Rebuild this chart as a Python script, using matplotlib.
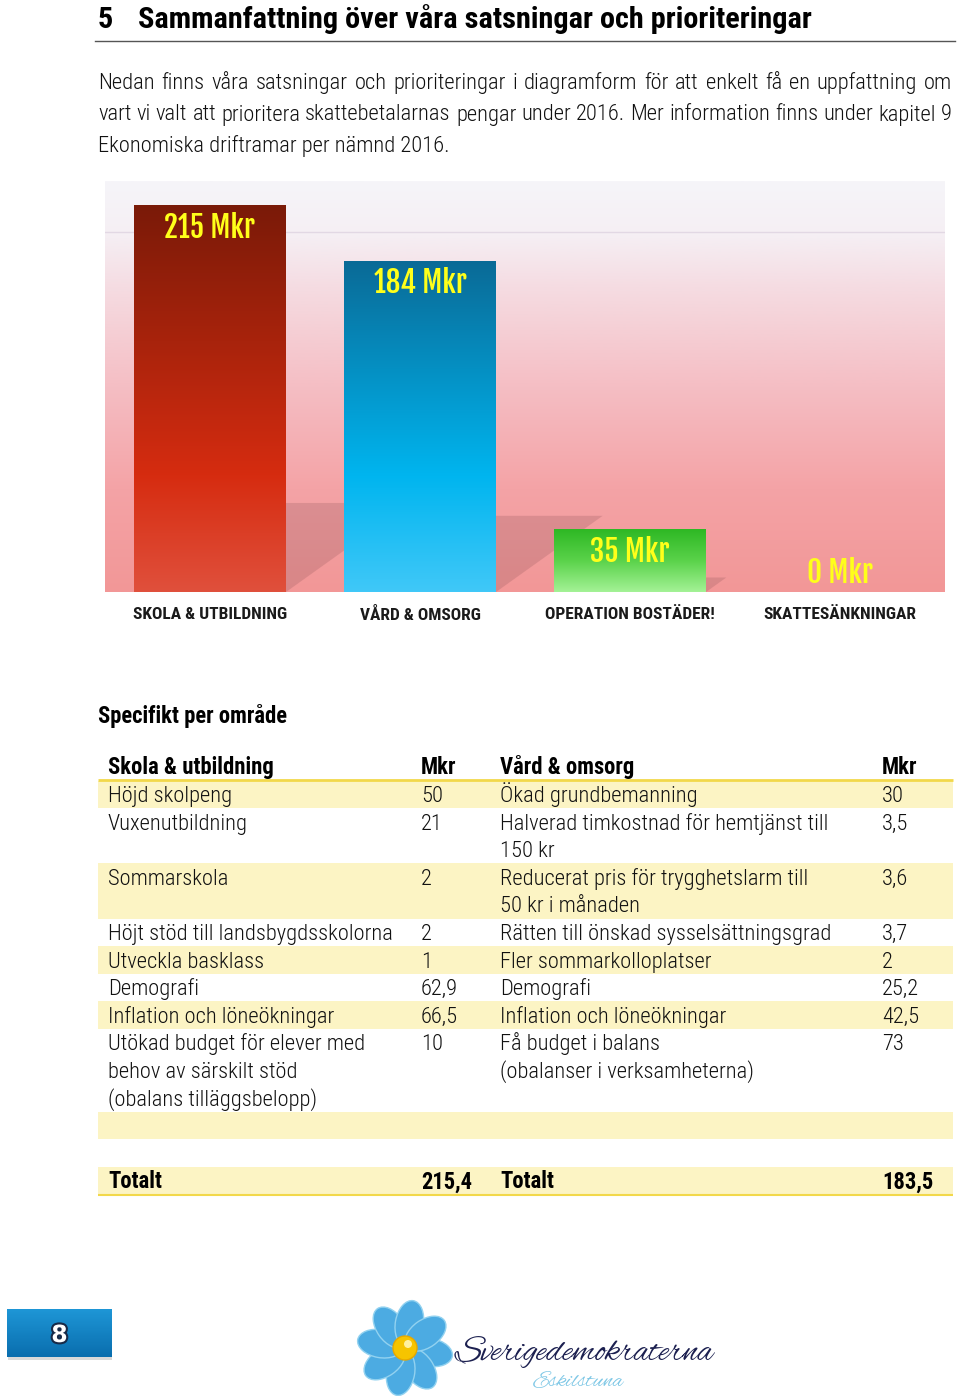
import matplotlib
matplotlib.use('Agg')
import matplotlib.pyplot as plt
import numpy as np
from matplotlib.colors import LinearSegmentedColormap
from matplotlib.patches import Rectangle, Ellipse, Circle
import matplotlib.patheffects as pe
from matplotlib import font_manager as fm

avail = {f.name for f in fm.fontManager.ttflist}


def pick(*cands):
    return next((c for c in cands if c in avail), 'DejaVu Sans')


BODY = pick('Roboto Condensed', 'Archivo Narrow', 'PT Sans Narrow', 'Liberation Sans Narrow', 'Barlow Condensed')
HEAVY = pick('Fjalla One', 'Anton', 'Oswald', 'Roboto Condensed')
SCRIPT = pick('Alex Brush', 'Allura', 'Liberation Serif')
plt.rcParams['font.family'] = [BODY, 'DejaVu Sans']

# ---- data ----
heading_num = "5"
heading = "Sammanfattning över våra satsningar och prioriteringar"
intro_lines = ["Nedan finns våra satsningar och prioriteringar i diagramform för att enkelt få en uppfattning om",
               "vart vi valt att prioritera skattebetalarnas pengar under 2016. Mer information finns under kapitel 9",
               "Ekonomiska driftramar per nämnd 2016."]

categories = ["SKOLA & UTBILDNING", "VÅRD & OMSORG", "OPERATION BOSTÄDER!", "SKATTESÄNKNINGAR"]
values = [215, 184, 35, 0]

section_title = "Specifikt per område"
table_header = ["Skola & utbildning", "Mkr", "Vård & omsorg", "Mkr"]
skola_items = ["Höjd skolpeng", "Vuxenutbildning", "Sommarskola", "Höjt stöd till landsbygdsskolorna",
               "Utveckla basklass", "Demografi", "Inflation och löneökningar",
               "Utökad budget för elever med\nbehov av särskilt stöd\n(obalans tilläggsbelopp)", "", ""]
skola_mkr = ["50", "21", "2", "2", "1", "62,9", "66,5", "10", "", ""]
vard_items = ["Ökad grundbemanning", "Halverad timkostnad för hemtjänst till\n150 kr",
              "Reducerat pris för trygghetslarm till\n50 kr i månaden", "Rätten till önskad sysselsättningsgrad",
              "Fler sommarkolloplatser", "Demografi", "Inflation och löneökningar",
              "Få budget i balans\n(obalanser i verksamheterna)", "", ""]
vard_mkr = ["30", "3,5", "3,6", "3,7", "2", "25,2", "42,5", "73", "", ""]
total_label = "Totalt"
totals = ["215,4", "183,5"]
page_no = "8"

W, H = 960, 1396
fig = plt.figure(figsize=(W / 100, H / 100), dpi=100)
page = fig.add_axes([0, 0, 1, 1])
page.set_xlim(0, W)
page.set_ylim(H, 0)
page.axis('off')
rend = fig.canvas.get_renderer()


def justify(line, x0, x1, y, **kw):
    words = line.split()
    texts = [page.text(0, y, w, **kw) for w in words]
    widths = [t.get_window_extent(renderer=rend).width for t in texts]
    gap = (x1 - x0 - sum(widths)) / (len(words) - 1)
    x = x0
    for t, wd in zip(texts, widths):
        t.set_x(x)
        x += wd + gap


BODY_FS = 16.2

# heading
page.text(98, 28, heading_num, fontsize=21.8, fontweight='bold', va='baseline')
page.text(138, 28, heading, fontsize=21.8, fontweight='bold', va='baseline')
page.plot([95, 955], [40.5, 40.5], color='#555555', lw=1)

# intro paragraph
for i, line in enumerate(intro_lines):
    y = 89 + i * 31.5
    if i < len(intro_lines) - 1:
        justify(line, 98, 952, y, fontsize=BODY_FS, fontweight='light', va='baseline', color='#111111')
    else:
        page.text(98, y, line, fontsize=BODY_FS, fontweight='light', va='baseline', color='#111111')

# ---- bar chart ----
px_per = 1.8
chart_left, chart_right, chart_top, chart_base = 105, 945, 181, 592
ymax = (chart_base - chart_top) / px_per
ax = fig.add_axes([chart_left / W, 1 - chart_base / H, (chart_right - chart_left) / W,
                   (chart_base - chart_top) / H])
ax.set_xlim(-0.5, 3.5)
ax.set_ylim(0, ymax)

bg_cmap = LinearSegmentedColormap.from_list('bg', [(0, '#f29797'), (0.25, '#f4a3a6'), (0.5, '#f5bec4'),
                                                   (0.75, '#f5dde3'), (0.87, '#f5eff4'), (1, '#f6f5f9')])
ax.imshow(np.linspace(0, 1, 256).reshape(-1, 1), cmap=bg_cmap, origin='lower', aspect='auto',
          extent=(-0.5, 3.5, 0, ymax), zorder=0)
ax.axhline(200, color='#e2d8e4', lw=1, zorder=1)

x = np.arange(len(values))
bw = 152 / 210
bar_cmaps = [
    LinearSegmentedColormap.from_list('b1', [(0, '#e0503c'), (0.3, '#d62c10'), (1, '#7a1a08')]),
    LinearSegmentedColormap.from_list('b2', [(0, '#40c8f8'), (0.35, '#00b5ef'), (1, '#0a6a96')]),
    LinearSegmentedColormap.from_list('b3', [(0, '#a4f296'), (0.5, '#5ad24a'), (1, '#2eb824')]),
    LinearSegmentedColormap.from_list('b4', [(0, '#f0f0f0'), (1, '#f0f0f0')]),
]

# shadows
for xi, v in zip(x, values):
    if v <= 0:
        continue
    sh = 0.23 * v
    sk = 1.4 * sh * px_per / 210
    ax.fill([xi - bw / 2, xi + bw / 2, xi + bw / 2 + sk, xi - bw / 2 + sk], [0, 0, sh, sh],
            color='#6b3a40', alpha=0.18, lw=0, zorder=2)

bars = ax.bar(x, values, width=bw, color='none', zorder=3)
grad = np.linspace(0, 1, 256).reshape(-1, 1)
for b, v, cm in zip(bars, values, bar_cmaps):
    if v <= 0:
        continue
    im = ax.imshow(grad, cmap=cm, origin='lower', aspect='auto',
                   extent=(b.get_x(), b.get_x() + b.get_width(), 0, v), zorder=3)
    im.set_clip_path(b)
ax.set_xlim(-0.5, 3.5)
ax.set_ylim(0, ymax)

for xi, v in zip(x, values):
    ax.text(xi, max(v - 12.5, 10.5), f"{v} Mkr", ha='center', va='center', fontsize=21,
            fontweight='bold', family=HEAVY, color='#ffff1a', zorder=5)

for sp in ax.spines.values():
    sp.set_visible(False)
ax.set_yticks([])
ax.set_xticks(x, categories)
ax.tick_params(axis='x', length=0, pad=11, labelsize=12.5)
for lbl in ax.get_xticklabels():
    lbl.set_fontweight('bold')
    lbl.set_color('#1a1a1a')

# ---- table ----
page.text(98, 723, section_title, fontsize=16.3, fontweight='bold', va='baseline')
cols = [108, 421, 500, 882]
for cx, h in zip(cols, table_header):
    page.text(cx, 774, h, fontsize=16.3, fontweight='bold', va='baseline')
page.plot([98, 953], [779.5, 779.5], color='#f2d84a', lw=2, solid_capstyle='butt')

line_h = 27.6
y = 780.5
rows = list(zip(skola_items, skola_mkr, vard_items, vard_mkr))
for i, row in enumerate(rows):
    n = max(len(c.split('\n')) for c in row)
    if i % 2 == 0:
        page.add_patch(Rectangle((98, y), 855, n * line_h, color='#fcf4c4', lw=0, zorder=0))
    for cx, cell in zip(cols, row):
        for k, part in enumerate(cell.split('\n')):
            page.text(cx, y + 21.5 + k * line_h, part, fontsize=BODY_FS, fontweight='light',
                      va='baseline', color='#111111')
    y += n * line_h

page.add_patch(Rectangle((98, y), 855, line_h, color='#fcf4c4', lw=0, zorder=0))
for cx, t in zip(cols, [total_label, totals[0], total_label, totals[1]]):
    page.text(cx, y + 21.5, t, fontsize=16.3, fontweight='bold', va='baseline')
page.plot([98, 953], [y + line_h + 0.5, y + line_h + 0.5], color='#f2d84a', lw=1.5, solid_capstyle='butt')

# ---- footer ----
page.add_patch(Rectangle((8, 1313), 104, 47, color='#000000', alpha=0.15, lw=0))
box_cmap = LinearSegmentedColormap.from_list('box', ['#1e96d6', '#0a6eae'])
page.imshow(np.linspace(0, 1, 64).reshape(-1, 1), cmap=box_cmap, origin='upper', aspect='auto',
            extent=(7, 112, 1357, 1309), zorder=2)
page.text(59.5, 1335, page_no, ha='center', va='center', fontsize=17, fontweight='bold', color='white',
          family='DejaVu Sans', zorder=3,
          path_effects=[pe.withStroke(linewidth=3, foreground='#172a48')])

cx, cy = 405, 1348
for k in range(8):
    ang = np.deg2rad(k * 45 + 10)
    ex, ey = cx + 25 * np.cos(ang), cy + 25 * np.sin(ang)
    page.add_patch(Ellipse((ex, ey), 46, 28, angle=np.rad2deg(ang), facecolor='#4cabe2',
                           edgecolor='#92d2f0', lw=1, zorder=2))
page.add_patch(Circle((cx, cy), 12, facecolor='#f6c400', edgecolor='#e6a800', lw=1, zorder=3))
page.add_patch(Circle((cx + 3, cy - 4), 4, facecolor='#fff0a0', lw=0, zorder=3))
page.text(455, 1360, "Sverigedemokraterna", fontsize=26, family=SCRIPT,
          color='#1c2050', va='baseline')
page.text(533, 1386, "Eskilstuna", fontsize=17, family=SCRIPT,
          color='#80c8e6', va='baseline')

page.set_xlim(0, W)
page.set_ylim(H, 0)
fig.savefig('out.png', dpi=100)
